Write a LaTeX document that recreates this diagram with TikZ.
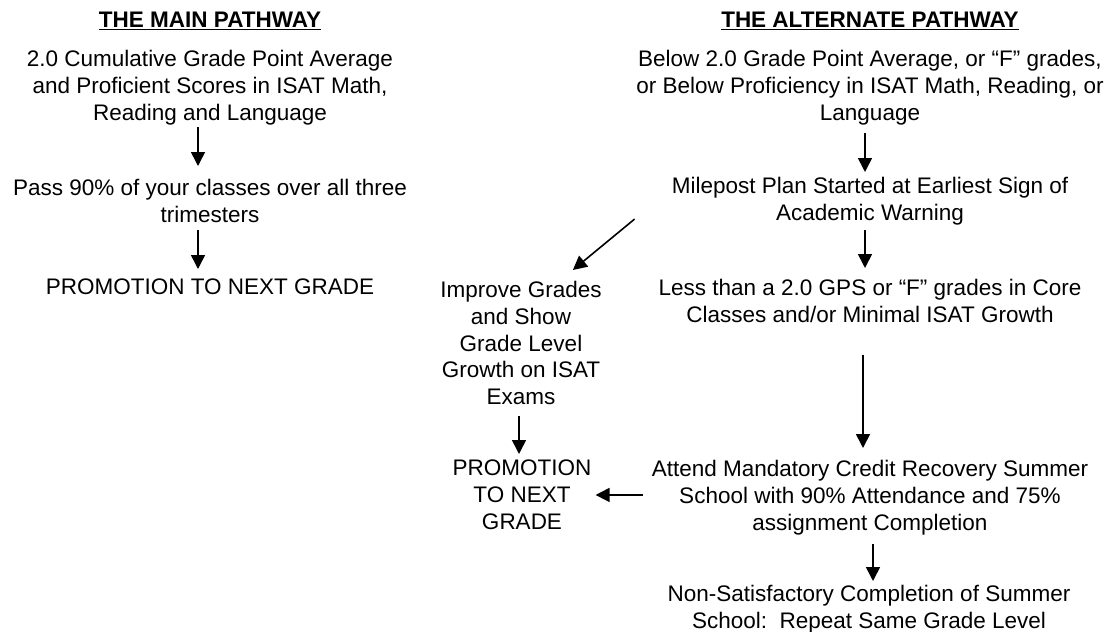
\documentclass[tikz,border=0pt]{standalone}
\usepackage{fontspec}
\setmainfont{Liberation Sans}
\usetikzlibrary{arrows.meta, calc}
\tikzstyle{path-text} = [align=center, inner sep=0pt, anchor=north, font=\fontsize{22.5}{26.8}\selectfont]
\tikzstyle{heading} = [path-text, font=\fontsize{22.5}{26.8}\selectfont\bfseries]
\tikzstyle{arrow} = [line width=1.6pt, -{Triangle[width=14pt,length=14pt]}]

\begin{document}
\begin{tikzpicture}[x=1pt, y=-1pt]
\useasboundingbox (0,0) rectangle (1112,632);

% Main pathway
\node (main-head) [heading] at (210,12) {\underline{THE MAIN PATHWAY}};
\node (main-gpa) [path-text] at (210,50) {2.0 Cumulative Grade Point Average\\and Proficient Scores in ISAT Math,\\Reading and Language};
\node (main-pass) [path-text] at (210,179) {Pass 90\% of your classes over all three\\trimesters};
\node (main-promo) [path-text] at (210,279) {PROMOTION TO NEXT GRADE};

\draw [arrow] ($(main-gpa.south)+(-12,2)$) -- ($(main-pass.north)+(-12,-13)$);
\draw [arrow] ($(main-pass.south)+(-12,7)$) -- ($(main-promo.north)+(-12,-10)$);

% Alternate pathway
\node (alt-head) [heading] at (870,12) {\underline{THE ALTERNATE PATHWAY}};
\node (alt-gpa) [path-text] at (870,50) {Below 2.0 Grade Point Average, or “F” grades,\\or Below Proficiency in ISAT Math, Reading, or\\Language};
\node (alt-plan) [path-text] at (870,177) {Milepost Plan Started at Earliest Sign of\\Academic Warning};
\node (alt-less) [path-text] at (870,279) {Less than a 2.0 GPS or “F” grades in Core\\Classes and/or Minimal ISAT Growth};
\node (improve) [path-text] at (521,281) {Improve Grades\\and Show\\Grade Level\\Growth on ISAT\\Exams};
\node (alt-promo) [path-text] at (522,460) {PROMOTION\\TO NEXT\\GRADE};
\node (summer) [path-text] at (870,460) {Attend Mandatory Credit Recovery Summer\\School with 90\% Attendance and 75\%\\assignment Completion};
\node (repeat) [path-text] at (869,585) {Non-Satisfactory Completion of Summer\\School:\ \ Repeat Same Grade Level};

\draw [arrow] ($(alt-gpa.south)+(-5,8)$) -- ($(alt-plan.north)+(-5,-5)$);
\draw [arrow] ($(alt-plan.south)+(-5,5)$) -- ($(alt-less.north)+(-5,-11)$);
\draw [arrow] ($(alt-plan.west)+(-37,18)$) -- ($(improve.north east)+(-29,-11)$);
\draw [arrow] ($(alt-less.south)+(-7,32)$) -- ($(summer.north)+(-7,-12)$);
\draw [arrow] ($(improve.south)+(-2,11)$) -- ($(alt-promo.north)+(-3,-6)$);
\draw [arrow] ($(summer.west |- alt-promo.east)+(-9,0)$) -- ($(alt-promo.east)+(4,0)$);
\draw [arrow] ($(summer.south)+(3,9)$) -- ($(repeat.north)+(4,-4)$);

\end{tikzpicture}
\end{document}
